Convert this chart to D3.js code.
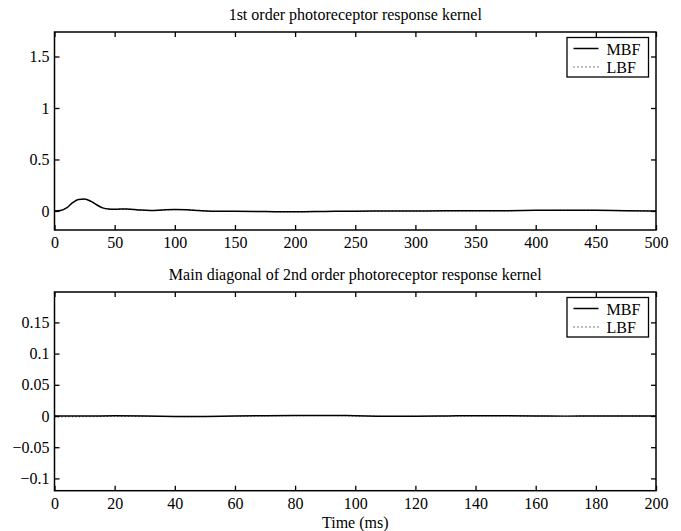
<!DOCTYPE html>
<html>
<head>
<meta charset="utf-8">
<script src="https://cdn.jsdelivr.net/npm/d3@7"></script>
<style>
  body { margin: 0; background: white; }
  text { font-family: "Liberation Serif", "Times New Roman", serif; }
</style>
</head>
<body>
<script>
// --- data ---
const time1 = [0, 5, 10, 15, 20, 25, 30, 35, 40, 45, 50, 60, 70, 80, 90, 100, 110, 120, 130, 140, 150, 175, 200, 225, 250, 275, 300, 325, 350, 375, 400, 425, 450, 475, 500];
const mbf1  = [0, 0.005, 0.03, 0.08, 0.112, 0.115, 0.095, 0.06, 0.03, 0.018, 0.016, 0.02, 0.01, 0.004, 0.01, 0.014, 0.012, 0.004, -0.002, -0.003, -0.004, -0.006, -0.008, -0.005, -0.002, -0.001, 0, 0.001, 0.001, 0.002, 0.006, 0.008, 0.007, 0.003, 0];
const lbf1  = [0, 0.004, 0.028, 0.078, 0.11, 0.113, 0.093, 0.058, 0.029, 0.017, 0.015, 0.019, 0.009, 0.003, 0.009, 0.013, 0.011, 0.003, -0.003, -0.004, -0.005, -0.007, -0.009, -0.006, -0.003, -0.002, -0.001, 0, 0.001, 0.002, 0.005, 0.007, 0.006, 0.002, 0];

const time2 = [0, 10, 20, 30, 40, 45, 50, 60, 70, 80, 90, 100, 110, 120, 130, 140, 150, 160, 170, 180, 190, 200];
const mbf2  = [0, 0, 0.0003, 0, -0.0008, -0.001, -0.0008, 0, 0.0005, 0.0008, 0.001, 0.0004, -0.0003, -0.0004, 0, 0.0006, 0.0005, 0.0002, -0.0002, 0, 0, 0];
const lbf2  = [-0.0015, -0.0012, -0.0006, -0.0004, -0.001, -0.0012, -0.001, -0.0003, 0.0002, 0.0005, 0.0006, 0.0002, -0.0005, -0.0006, -0.0002, 0.0003, 0.0002, 0, -0.0003, -0.0001, 0, 0];

const xTicks1 = [0, 50, 100, 150, 200, 250, 300, 350, 400, 450, 500];
const yTicks1 = [0, 0.5, 1, 1.5];
const xTicks2 = [0, 20, 40, 60, 80, 100, 120, 140, 160, 180, 200];
const yTicks2 = [-0.1, -0.05, 0, 0.05, 0.1, 0.15];
const seriesNames = ['MBF', 'LBF'];

const width = 681, height = 531;
const left = 54.5, right = 656;
const serif = '"Liberation Serif", "Times New Roman", serif';
const fs = 16;

const svg = d3.select('body').append('svg')
  .attr('width', width)
  .attr('height', height);

const fmt = d => d < 0 ? '\u2212' + String(-d) : String(d);

function panel(opt) {
  const x = d3.scaleLinear().domain(opt.xDomain).range([left, right]);
  const y = d3.scaleLinear().domain(opt.yDomain).range([opt.bottom, opt.top]);

  // ticks inward, on all four sides
  const axes = svg.append('g');
  axes.append('g')
    .attr('transform', `translate(0,${opt.bottom})`)
    .call(d3.axisBottom(x).tickValues(opt.xTicks).tickSize(-5).tickPadding(7).tickFormat(d => String(d)));
  axes.append('g')
    .attr('transform', `translate(0,${opt.top})`)
    .call(d3.axisTop(x).tickValues(opt.xTicks).tickSize(-5).tickFormat(''));
  axes.append('g')
    .attr('transform', `translate(${left},0)`)
    .call(d3.axisLeft(y).tickValues(opt.yTicks).tickSize(-5).tickPadding(5).tickFormat(fmt));
  axes.append('g')
    .attr('transform', `translate(${right},0)`)
    .call(d3.axisRight(y).tickValues(opt.yTicks).tickSize(-5).tickFormat(''));

  axes.selectAll('.domain').remove();
  axes.selectAll('g').attr('font-family', serif).attr('font-size', fs);
  axes.selectAll('.tick line').attr('stroke', '#000').attr('stroke-width', 1.3);
  axes.selectAll('.tick text').attr('fill', '#000');

  const line = d3.line().x(d => x(d[0])).y(d => y(d[1])).curve(d3.curveMonotoneX);

  svg.append('path')
    .datum(opt.time.map((t, i) => [t, opt.lbf[i]]))
    .attr('d', line)
    .attr('fill', 'none')
    .attr('stroke', '#333')
    .attr('stroke-width', 1)
    .attr('stroke-dasharray', '1,2.5');
  svg.append('path')
    .datum(opt.time.map((t, i) => [t, opt.mbf[i]]))
    .attr('d', line)
    .attr('fill', 'none')
    .attr('stroke', '#000')
    .attr('stroke-width', 1.5);

  // frame
  svg.append('rect')
    .attr('x', left).attr('y', opt.top)
    .attr('width', right - left).attr('height', opt.bottom - opt.top)
    .attr('fill', 'none').attr('stroke', '#000').attr('stroke-width', 1.5);

  svg.append('text')
    .attr('x', (left + right) / 2).attr('y', opt.top - 12.5)
    .attr('text-anchor', 'middle').attr('font-size', fs)
    .attr('font-family', serif)
    .text(opt.title);

  // legend
  const lg = svg.append('g').attr('transform', `translate(567,${opt.top + 5.5})`);
  lg.append('rect').attr('width', 81.5).attr('height', 39.5)
    .attr('fill', 'white').attr('stroke', '#000').attr('stroke-width', 1.3);
  seriesNames.forEach((name, i) => {
    lg.append('line')
      .attr('x1', 6.5).attr('x2', 31.5)
      .attr('y1', 11 + i * 18.5).attr('y2', 11 + i * 18.5)
      .attr('stroke', '#000')
      .attr('stroke-width', i === 0 ? 1.5 : 1)
      .attr('stroke-dasharray', i === 0 ? null : '1,3');
    lg.append('text')
      .attr('x', 39.5).attr('y', 17 + i * 18.5)
      .attr('font-size', fs)
      .attr('font-family', serif)
      .text(name);
  });
}

panel({
  title: '1st order photoreceptor response kernel',
  top: 32, bottom: 230,
  xDomain: [0, 500], yDomain: [-0.185, 1.738],
  xTicks: xTicks1, yTicks: yTicks1,
  time: time1, mbf: mbf1, lbf: lbf1
});

panel({
  title: 'Main diagonal of 2nd order photoreceptor response kernel',
  top: 292, bottom: 490.7,
  xDomain: [0, 200], yDomain: [-0.1197, 0.1987],
  xTicks: xTicks2, yTicks: yTicks2,
  time: time2, mbf: mbf2, lbf: lbf2
});

svg.append('text')
  .attr('x', (left + right) / 2).attr('y', 528)
  .attr('text-anchor', 'middle').attr('font-size', fs)
  .attr('font-family', serif)
  .text('Time (ms)');
</script>
</body>
</html>
